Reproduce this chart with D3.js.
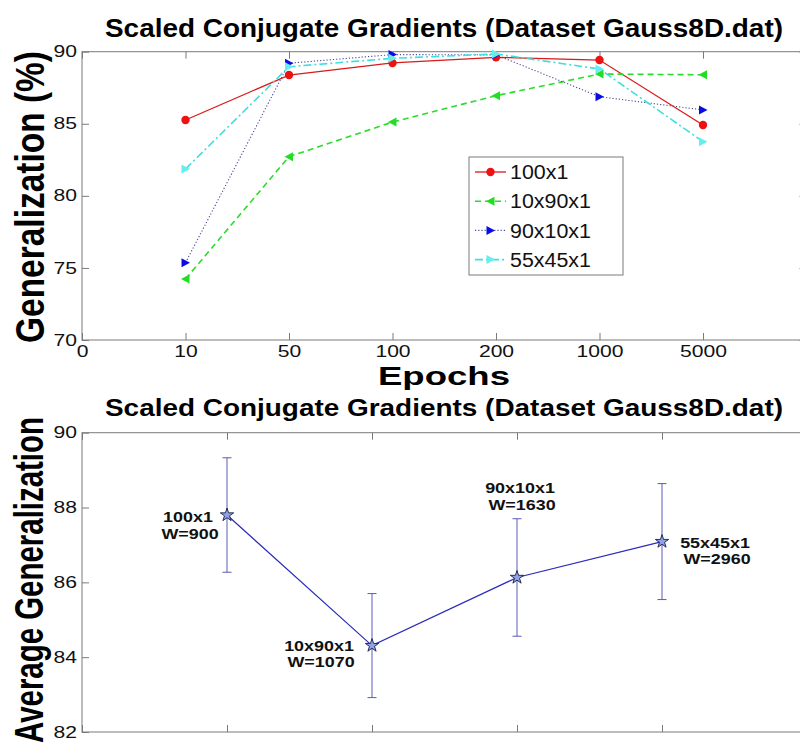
<!DOCTYPE html>
<html>
<head>
<meta charset="utf-8">
<script src="https://cdn.jsdelivr.net/npm/d3@7"></script>
<style>
  html, body { margin: 0; padding: 0; background: #fff; }
  svg { display: block; font-family: "Liberation Sans", Arial, Helvetica, sans-serif; }
</style>
</head>
<body>
<svg id="chart" width="800" height="747"></svg>
<script>
// ---- Epoch sweep (top panel) ----
const epochTickLabels = ["0", "10", "50", "100", "200", "1000", "5000"];
const epochs = ["10", "50", "100", "200", "1000", "5000"];
const gen100x1   = [85.26, 88.38, 89.22, 89.61, 89.42, 84.92];
const gen10x90x1 = [74.23, 82.72, 85.12, 86.95, 88.45, 88.40];
const gen90x10x1 = [75.36, 89.20, 89.80, 89.78, 86.88, 85.96];
const gen55x45x1 = [81.86, 88.96, 89.54, 89.84, 88.80, 83.76];
const seriesNames = ["100x1", "10x90x1", "90x10x1", "55x45x1"];
const genTicks = [70, 75, 80, 85, 90];

// ---- Architecture summary (bottom panel) ----
const architectures = ["100x1", "10x90x1", "90x10x1", "55x45x1"];
const weightCounts = [900, 1070, 1630, 2960];
const avgGeneralization = [87.80, 84.31, 86.13, 87.09];
const avgErrorHalf = [1.53, 1.39, 1.57, 1.55];
const avgTicks = [82, 84, 86, 88, 90];

const svg = d3.select("#chart");
const axisColor = "#7a7a7a";
const SX = 1.32; // horizontal stretch of the figure's lettering

function stretchTicks(g, sx) {
  g.selectAll(".tick text").each(function () {
    const t = d3.select(this);
    const x = +t.attr("x") || 0;
    t.attr("x", x / sx).attr("transform", `scale(${sx},1)`);
  });
}

function styleAxis(g) {
  g.select(".domain").remove();
  g.selectAll(".tick line").attr("stroke", axisColor);
  g.selectAll(".tick text").attr("fill", "#111").attr("font-size", 16);
}

// ================= TOP PANEL =================
const topBox = { l: 82, r: 806.5, t: 51.7, b: 340 };
const xTop = d3.scaleLinear().domain([0, 7]).range([topBox.l, topBox.r]);
const yTop = d3.scaleLinear().domain([70, 90]).range([topBox.b, topBox.t]);
const gTop = svg.append("g");

gTop.append("rect")
  .attr("x", topBox.l).attr("y", topBox.t)
  .attr("width", topBox.r - topBox.l).attr("height", topBox.b - topBox.t)
  .attr("fill", "#fff").attr("stroke", axisColor).attr("stroke-width", 1);

const xTickVals = d3.range(0, 8);
gTop.append("g").attr("transform", `translate(0,${topBox.b})`)
  .call(d3.axisBottom(xTop).tickValues(xTickVals).tickSizeInner(-7).tickSizeOuter(0).tickPadding(6)
    .tickFormat(i => epochTickLabels[i] !== undefined ? epochTickLabels[i] : ""))
  .call(styleAxis).call(g => stretchTicks(g, SX));
gTop.append("g").attr("transform", `translate(0,${topBox.t})`)
  .call(d3.axisTop(xTop).tickValues(xTickVals).tickSizeInner(-7).tickSizeOuter(0).tickFormat(""))
  .call(styleAxis);
gTop.append("g").attr("transform", `translate(${topBox.l},0)`)
  .call(d3.axisLeft(yTop).tickValues(genTicks).tickSizeInner(-7).tickSizeOuter(0).tickPadding(5))
  .call(styleAxis).call(g => stretchTicks(g, SX));
gTop.append("g").attr("transform", `translate(${topBox.r},0)`)
  .call(d3.axisRight(yTop).tickValues(genTicks).tickSizeInner(-7).tickSizeOuter(0).tickFormat(""))
  .call(styleAxis);

const triLeft = "M-4.5,0L4,-4.5L4,4.5Z";
const triRight = "M4.5,0L-4,-4.5L-4,4.5Z";
const seriesStyles = [
  { values: gen100x1,   stroke: "#d91a1a", dash: null,      width: 1.3, marker: "circle", fill: "#ee1111" },
  { values: gen10x90x1, stroke: "#2bdc2b", dash: "6,4",     width: 1.6, marker: triLeft,  fill: "#22dd22" },
  { values: gen90x10x1, stroke: "#4a4a9a", dash: "1.2,2",   width: 1.1, marker: triRight, fill: "#0a0ae6" },
  { values: gen55x45x1, stroke: "#3fdede", dash: "8,3,2,3", width: 1.6, marker: triRight, fill: "#66eeee" }
];

const line = d3.line().x((d, i) => xTop(i + 1)).y(d => yTop(d));

function drawMarker(g, style, x, y) {
  if (style.marker === "circle") {
    g.append("circle").attr("cx", x).attr("cy", y).attr("r", 4.2).attr("fill", style.fill);
  } else {
    g.append("path").attr("d", style.marker)
      .attr("transform", `translate(${x},${y})`).attr("fill", style.fill);
  }
}

seriesStyles.forEach(s => {
  const g = gTop.append("g");
  g.append("path").datum(s.values)
    .attr("d", line).attr("fill", "none")
    .attr("stroke", s.stroke).attr("stroke-width", s.width)
    .attr("stroke-dasharray", s.dash);
  s.values.forEach((v, i) => drawMarker(g, s, xTop(i + 1), yTop(v)));
});

// legend
const leg = gTop.append("g");
leg.append("rect").attr("x", 469).attr("y", 157).attr("width", 154).attr("height", 118)
  .attr("fill", "#fff").attr("stroke", axisColor).attr("stroke-width", 1);
seriesNames.forEach((name, i) => {
  const s = seriesStyles[i];
  const cy = 172 + i * 29.2;
  leg.append("line").attr("x1", 475).attr("x2", 506).attr("y1", cy).attr("y2", cy)
    .attr("stroke", s.stroke).attr("stroke-width", s.width).attr("stroke-dasharray", s.dash);
  drawMarker(leg, s, 490.5, cy);
  leg.append("text").attr("transform", `translate(510,${cy + 7.2}) scale(1.07,1)`)
    .attr("font-size", 20).attr("fill", "#111").text(name);
});

// titles and axis labels
svg.append("text").attr("x", 444).attr("y", 37).attr("text-anchor", "middle")
  .attr("font-size", 25).attr("font-weight", "bold")
  .attr("textLength", 678).attr("lengthAdjust", "spacingAndGlyphs")
  .text("Scaled Conjugate Gradients (Dataset Gauss8D.dat)");
svg.append("text").attr("x", 444).attr("y", 385).attr("text-anchor", "middle")
  .attr("font-size", 26).attr("font-weight", "bold")
  .attr("textLength", 132).attr("lengthAdjust", "spacingAndGlyphs")
  .text("Epochs");
svg.append("text").attr("transform", `translate(44,197) scale(1.25,1) rotate(-90)`)
  .attr("text-anchor", "middle").attr("font-size", 32).attr("font-weight", "bold")
  .attr("textLength", 292).attr("lengthAdjust", "spacingAndGlyphs")
  .text("Generalization (%)");

// ================= BOTTOM PANEL =================
const botBox = { l: 82, r: 807, t: 432.7, b: 732 };
const xBot = d3.scaleLinear().domain([0, 5]).range([botBox.l, botBox.r]);
const yBot = d3.scaleLinear().domain([82, 90]).range([botBox.b, botBox.t]);
const gBot = svg.append("g");

gBot.append("rect")
  .attr("x", botBox.l).attr("y", botBox.t)
  .attr("width", botBox.r - botBox.l).attr("height", botBox.b - botBox.t)
  .attr("fill", "#fff").attr("stroke", axisColor).attr("stroke-width", 1);

const bxTicks = d3.range(0, 6);
gBot.append("g").attr("transform", `translate(0,${botBox.b})`)
  .call(d3.axisBottom(xBot).tickValues(bxTicks).tickSizeInner(-7).tickSizeOuter(0).tickFormat(""))
  .call(styleAxis);
gBot.append("g").attr("transform", `translate(0,${botBox.t})`)
  .call(d3.axisTop(xBot).tickValues(bxTicks).tickSizeInner(-7).tickSizeOuter(0).tickFormat(""))
  .call(styleAxis);
gBot.append("g").attr("transform", `translate(${botBox.l},0)`)
  .call(d3.axisLeft(yBot).tickValues(avgTicks).tickSizeInner(-7).tickSizeOuter(0).tickPadding(5))
  .call(styleAxis).call(g => stretchTicks(g, SX));
gBot.append("g").attr("transform", `translate(${botBox.r},0)`)
  .call(d3.axisRight(yBot).tickValues(avgTicks).tickSizeInner(-7).tickSizeOuter(0).tickFormat(""))
  .call(styleAxis);

const errColor = "#5b5bbd";
avgGeneralization.forEach((v, i) => {
  const x = xBot(i + 1);
  const lo = yBot(v - avgErrorHalf[i]);
  const hi = yBot(v + avgErrorHalf[i]);
  gBot.append("line").attr("x1", x).attr("x2", x).attr("y1", lo).attr("y2", hi)
    .attr("stroke", errColor).attr("stroke-width", 1);
  [lo, hi].forEach(yy => gBot.append("line")
    .attr("x1", x - 4.5).attr("x2", x + 4.5).attr("y1", yy).attr("y2", yy)
    .attr("stroke", errColor).attr("stroke-width", 1));
});

gBot.append("path").datum(avgGeneralization)
  .attr("d", d3.line().x((d, i) => xBot(i + 1)).y(d => yBot(d)))
  .attr("fill", "none").attr("stroke", "#2b2bbb").attr("stroke-width", 1.2);

avgGeneralization.forEach((v, i) => {
  gBot.append("path")
    .attr("d", d3.symbol().type(d3.symbolStar).size(55)())
    .attr("transform", `translate(${xBot(i + 1)},${yBot(v)})`)
    .attr("fill", "#8ea2e6").attr("stroke", "#1c1c44").attr("stroke-width", 0.9);
});

// annotation placement relative to each point (pixels)
const noteOffsets = [[-39, 7], [-53, 5], [3, -84], [53, 6]];
architectures.forEach((arch, i) => {
  const px = xBot(i + 1) + noteOffsets[i][0];
  const py = yBot(avgGeneralization[i]) + noteOffsets[i][1];
  [arch, "W=" + weightCounts[i]].forEach((txt, k) => {
    gBot.append("text")
      .attr("transform", `translate(${px + (k ? 2 : 0)},${py + k * 16.6}) scale(1.28,1)`)
      .attr("text-anchor", "middle").attr("font-size", 14).attr("font-weight", "bold")
      .attr("fill", "#111").text(txt);
  });
});

svg.append("text").attr("x", 444).attr("y", 416).attr("text-anchor", "middle")
  .attr("font-size", 23).attr("font-weight", "bold")
  .attr("textLength", 678).attr("lengthAdjust", "spacingAndGlyphs")
  .text("Scaled Conjugate Gradients (Dataset Gauss8D.dat)");
svg.append("text").attr("transform", `translate(43,580) scale(1.35,1) rotate(-90)`)
  .attr("text-anchor", "middle").attr("font-size", 30).attr("font-weight", "bold")
  .attr("textLength", 326).attr("lengthAdjust", "spacingAndGlyphs")
  .text("Average Generalization");
</script>
</body>
</html>
